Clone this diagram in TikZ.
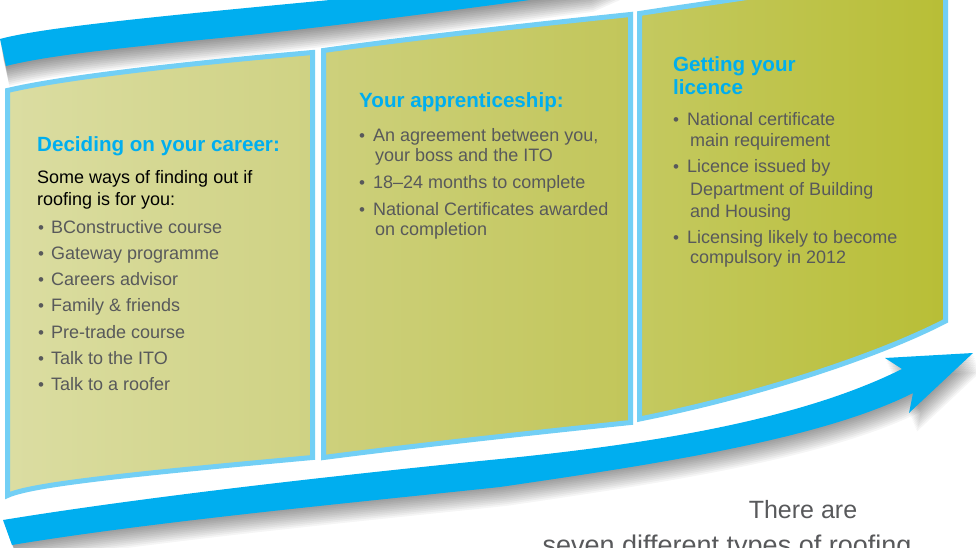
\documentclass[tikz,border=0pt]{standalone}
\usepackage{fontspec}
\setmainfont{Liberation Sans}
\definecolor{bandblue}{HTML}{00AEEF}
\definecolor{rimblue}{HTML}{72CFF5}
\definecolor{headblue}{HTML}{00AEEF}
\definecolor{txtgray}{HTML}{58595B}
\definecolor{pA}{HTML}{DBDDA2}
\definecolor{pB}{HTML}{CFD283}
\definecolor{pC}{HTML}{CDD07C}
\definecolor{pD}{HTML}{C2C65A}
\definecolor{pE}{HTML}{C4C960}
\definecolor{pF}{HTML}{B8BE36}
\newcommand{\tbpath}{(0,39) .. controls (40,28) and (150,17) .. (330,0) .. controls (420,-9) and (500,-18) .. (580,-30) -- (640,-30) -- (590,-8) .. controls (470,8) and (360,23) .. (250,35) .. controls (120,48) and (50,55) .. (6,66) -- cycle}
\newcommand{\arrpath}{(3,520) .. controls (150,496) and (350,474) .. (500,459) .. controls (650,444) and (800,420) .. (902,369) -- (885,358) -- (973,353) -- (909,413) -- (913,393) .. controls (820,440) and (650,465) .. (500,487) .. controls (350,503) and (150,522) .. (12,545) -- cycle}
\begin{document}
\begin{tikzpicture}[x=1pt,y=-1pt,
  panel/.style={draw=rimblue,line width=5pt,line join=miter},
  head/.style={anchor=base west,inner sep=0pt,font=\fontsize{20.6}{24}\selectfont\bfseries,text=headblue},
  body/.style={anchor=base west,inner sep=0pt,font=\fontsize{18}{22}\selectfont,text=txtgray},
  lead/.style={body,text=black},
  dot/.style={anchor=base west,inner sep=0pt,font=\fontsize{17}{20}\selectfont,text=txtgray},
  foot/.style={anchor=base,inner sep=0pt,font=\fontsize{25}{30}\selectfont,text=txtgray}]
\useasboundingbox (0,0) rectangle (976,548);
\clip (0,0) rectangle (976,548);
\fill[white] (0,0) rectangle (976,548);
% top band with shadow
\foreach \i in {1,...,11}
  \fill[black,opacity=0.042,shift={(0.3*\i,1.8*\i)}] \tbpath;
\fill[bandblue] \tbpath;
% bottom arrow with shadow
\foreach \i in {1,...,11}
  \fill[black,opacity=0.04,shift={(0.7*\i,1.7*\i)}] \arrpath;
\fill[bandblue] \arrpath;
% panels
\path[panel,left color=pA,right color=pB]
  (7.5,90.5) .. controls (60,78) and (180,64) .. (312.5,52.5) -- (312.5,457.5)
  .. controls (120,475) and (30,485) .. (7.5,495.5) -- cycle;
\path[panel,left color=pC,right color=pD]
  (323.5,50.5) .. controls (420,37) and (530,25) .. (630.5,14.5) -- (630.5,422.5)
  .. controls (530,433) and (420,445) .. (323.5,457.5) -- cycle;
\path[panel,left color=pE,right color=pF]
  (639.5,13.5) .. controls (700,4) and (820,-12) .. (945.5,-35) -- (945.5,321)
  .. controls (880,355) and (760,395) .. (639.5,419) -- cycle;
% panel 1 text
\node[head] (h1) at (37,152) {Deciding on your career:};
\node[lead] (l1a) at (37,183) {Some ways of finding out if};
\node[lead] (l1b) at (37,205) {roofing is for you:};
\node[dot] (d11) at (38,233) {\textbullet};  \node[body] (t11) at (51,233) {BConstructive course};
\node[dot] (d12) at (38,259.3) {\textbullet};\node[body] (t12) at (51,259.3) {Gateway programme};
\node[dot] (d13) at (38,285.6) {\textbullet};\node[body] (t13) at (51,285.6) {Careers advisor};
\node[dot] (d14) at (38,311.9) {\textbullet};\node[body] (t14) at (51,311.9) {Family \& friends};
\node[dot] (d15) at (38,338.2) {\textbullet};\node[body] (t15) at (51,338.2) {Pre-trade course};
\node[dot] (d16) at (38,364.5) {\textbullet};\node[body] (t16) at (51,364.5) {Talk to the ITO};
\node[dot] (d17) at (38,390.8) {\textbullet};\node[body] (t17) at (51,390.8) {Talk to a roofer};
% panel 2 text
\node[head] (h2) at (359,108) {Your apprenticeship:};
\node[dot] (d21) at (359,142) {\textbullet};\node[body] (t21) at (373,142) {An agreement between you,};
\node[body] (t21b) at (375,162) {your boss and the ITO};
\node[dot] (d22) at (359,188) {\textbullet};\node[body] (t22) at (373,188) {18--24 months to complete};
\node[dot] (d23) at (359,215) {\textbullet};\node[body] (t23) at (373,215) {National Certificates awarded};
\node[body] (t23b) at (375,235) {on completion};
% panel 3 text
\node[head] (h3a) at (673,72) {Getting your};
\node[head] (h3b) at (673,95) {licence};
\node[dot] (d31) at (673,126) {\textbullet};\node[body] (t31) at (687,126) {National certificate};
\node[body] (t31b) at (690,147) {main requirement};
\node[dot] (d32) at (673,173) {\textbullet};\node[body] (t32) at (687,173) {Licence issued by};
\node[body] (t32b) at (690,195) {Department of Building};
\node[body] (t32c) at (690,217) {and Housing};
\node[dot] (d33) at (673,243) {\textbullet};\node[body] (t33) at (687,243) {Licensing likely to become};
\node[body] (t33b) at (690,263) {compulsory in 2012};
% footer
\node[foot] (f1) at (803,518) {There are};
\node[foot,font=\fontsize{27}{30}\selectfont] (f2) at (727,554) {seven different types of roofing};
\end{tikzpicture}
\end{document}
